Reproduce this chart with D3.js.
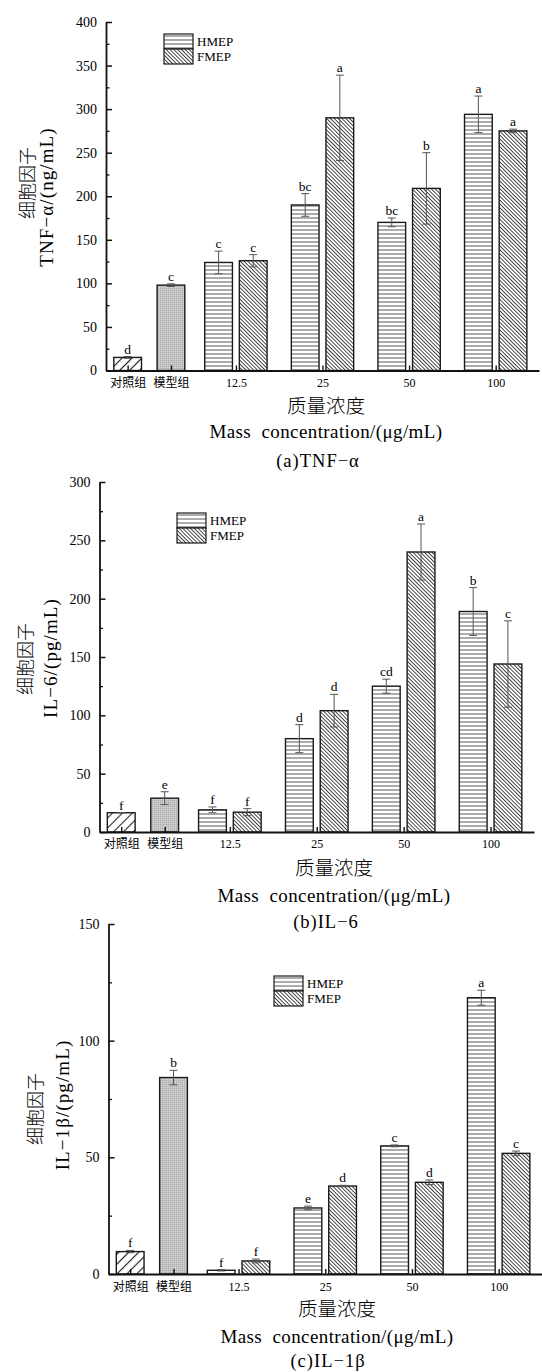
<!DOCTYPE html>
<html>
<head>
<meta charset="utf-8">
<script src="https://cdn.jsdelivr.net/npm/d3@7"></script>
<style>
  body { margin: 0; background: #fff; }
  svg { display: block; }
  text { font-family: 'Liberation Serif', 'Noto Sans CJK SC', serif; fill: #000; }
</style>
</head>
<body>
<div id="chart"></div>
<script>
// ---- data ----
const xLabels = ['对照组', '模型组', '12.5', '25', '50', '100'];
const seriesNames = ['HMEP', 'FMEP'];

// (a) TNF-α
const tnfCtrl = [15, 98];
const tnfCtrlErr = [1, 1.5];
const tnfCtrlSig = ['d', 'c'];
const tnfH = [124, 190, 170, 294];
const tnfHErr = [13, 13, 5, 21];
const tnfHSig = ['c', 'bc', 'bc', 'a'];
const tnfF = [126, 290, 209, 275];
const tnfFErr = [7, 49, 41, 2];
const tnfFSig = ['c', 'a', 'b', 'a'];

// (b) IL-6
const il6Ctrl = [16.5, 29];
const il6CtrlErr = [0, 5.5];
const il6CtrlSig = ['f', 'e'];
const il6H = [19, 80, 125, 189];
const il6HErr = [2.5, 12, 6, 20.5];
const il6HSig = ['f', 'd', 'cd', 'b'];
const il6F = [17, 104, 240, 144];
const il6FErr = [3, 14, 24, 37];
const il6FSig = ['f', 'd', 'a', 'c'];

// (c) IL-1β
const il1Ctrl = [9.6, 84.2];
const il1CtrlErr = [0.5, 3.1];
const il1CtrlSig = ['f', 'b'];
const il1H = [1.6, 28.3, 54.9, 118.4];
const il1HErr = [0.3, 0.8, 0.4, 3.2];
const il1HSig = ['f', 'e', 'c', 'a'];
const il1F = [5.6, 37.7, 39.3, 51.7];
const il1FErr = [0.8, 0.3, 1, 1];
const il1FSig = ['f', 'd', 'd', 'c'];

const W = 542, H = 1372;
const svg = d3.select('#chart').append('svg').attr('width', W).attr('height', H);

// hatch patterns
const defs = svg.append('defs');
function hatch(id, size, angle, stroke, sw, bg) {
  const p = defs.append('pattern').attr('id', id)
    .attr('patternUnits', 'userSpaceOnUse')
    .attr('width', size).attr('height', size)
    .attr('patternTransform', `rotate(${angle})`);
  p.append('rect').attr('width', size).attr('height', size).attr('fill', bg);
  p.append('line').attr('x1', size / 2).attr('y1', 0).attr('x2', size / 2).attr('y2', size)
    .attr('stroke', stroke).attr('stroke-width', sw);
}
hatch('pCtrl', 7, 45, '#222', 1.1, '#fff');
hatch('pH', 4, 90, '#444', 0.9, '#fff');
hatch('pF', 2.7, -45, '#333', 0.9, '#fff');
{
  const p = defs.append('pattern').attr('id', 'pModel')
    .attr('patternUnits', 'userSpaceOnUse').attr('width', 2).attr('height', 2);
  p.append('rect').attr('width', 2).attr('height', 2).attr('fill', '#dadada');
  p.append('path').attr('d', 'M0,0.5H2M0.5,0V2').attr('stroke', '#a9a9a9').attr('stroke-width', 0.6);
}

const panels = [
  {
    left: 106, right: 539, bottom: 370.5, top: 22, yMax: 400,
    ctrl: tnfCtrl, ctrlErr: tnfCtrlErr, ctrlSig: tnfCtrlSig,
    h: tnfH, hErr: tnfHErr, hSig: tnfHSig, f: tnfF, fErr: tnfFErr, fSig: tnfFSig,
    yTitle: 'TNF−α/(ng/mL)', yTitleX: [28, 46], yTitleY: [183, 197],
    legend: { x: 164, y: 34 },
    tickLabY: 383, titleX: 326, titleY: [406, 431], caption: '(a)TNF−α', capX: 318, capY: 461
  },
  {
    left: 99.5, right: 534, bottom: 832, top: 482, yMax: 300,
    ctrl: il6Ctrl, ctrlErr: il6CtrlErr, ctrlSig: il6CtrlSig,
    h: il6H, hErr: il6HErr, hSig: il6HSig, f: il6F, fErr: il6FErr, fSig: il6FSig,
    yTitle: 'IL−6/(pg/mL)', yTitleX: [26, 50], yTitleY: [659, 658],
    legend: { x: 177, y: 513 },
    tickLabY: 844, titleX: 334, titleY: [868, 895], caption: '(b)IL−6', capX: 326, capY: 922
  },
  {
    left: 108.5, right: 542, bottom: 1274, top: 924, yMax: 150,
    ctrl: il1Ctrl, ctrlErr: il1CtrlErr, ctrlSig: il1CtrlSig,
    h: il1H, hErr: il1HErr, hSig: il1HSig, f: il1F, fErr: il1FErr, fSig: il1FSig,
    yTitle: 'IL−1β/(pg/mL)', yTitleX: [36, 62], yTitleY: [1109, 1105],
    legend: { x: 274, y: 976 },
    tickLabY: 1287, titleX: 337, titleY: [1309, 1336], caption: '(c)IL−1β', capX: 328, capY: 1361
  }
];

function drawPanel(p) {
  const g = svg.append('g');
  const x = d3.scaleLinear().domain([0.5, 5.5]).range([p.left, p.right]);
  const y = d3.scaleLinear().domain([0, p.yMax]).range([p.bottom, p.top]);
  const bw = x(0.82) - x(0.5);

  const bars = [
    { pos: 0.75, v: p.ctrl[0], e: p.ctrlErr[0], s: p.ctrlSig[0], fill: 'url(#pCtrl)' },
    { pos: 1.25, v: p.ctrl[1], e: p.ctrlErr[1], s: p.ctrlSig[1], fill: 'url(#pModel)' },
    ...p.h.map((v, i) => ({ pos: 2 + i - 0.2, v, e: p.hErr[i], s: p.hSig[i], fill: 'url(#pH)' })),
    ...p.f.map((v, i) => ({ pos: 2 + i + 0.2, v, e: p.fErr[i], s: p.fSig[i], fill: 'url(#pF)' }))
  ];

  g.selectAll('rect.bar').data(bars).join('rect')
    .attr('class', 'bar')
    .attr('x', d => x(d.pos) - bw / 2)
    .attr('y', d => y(d.v))
    .attr('width', bw)
    .attr('height', d => y(0) - y(d.v))
    .attr('fill', d => d.fill)
    .attr('stroke', '#1a1a1a').attr('stroke-width', 1.4);

  // error bars
  const eb = g.selectAll('g.err').data(bars).join('g').attr('class', 'err')
    .attr('stroke', '#555').attr('stroke-width', 1);
  eb.append('line')
    .attr('x1', d => x(d.pos)).attr('x2', d => x(d.pos))
    .attr('y1', d => y(d.v + d.e)).attr('y2', d => y(d.v - d.e));
  eb.append('line')
    .attr('x1', d => x(d.pos) - 4).attr('x2', d => x(d.pos) + 4)
    .attr('y1', d => y(d.v + d.e)).attr('y2', d => y(d.v + d.e));
  eb.append('line')
    .attr('x1', d => x(d.pos) - 4).attr('x2', d => x(d.pos) + 4)
    .attr('y1', d => y(d.v - d.e)).attr('y2', d => y(d.v - d.e));

  // significance letters
  g.selectAll('text.sig').data(bars).join('text')
    .attr('class', 'sig')
    .attr('x', d => x(d.pos))
    .attr('y', d => y(d.v + d.e) - 3)
    .attr('text-anchor', 'middle')
    .attr('font-size', 13.5)
    .text(d => d.s);

  // y axis with inward ticks
  const major = d3.range(0, p.yMax + 1, 50);
  const minor = d3.range(25, p.yMax, 50);
  const yAxis = g.append('g').attr('transform', `translate(${p.left},0)`)
    .call(d3.axisLeft(y).tickValues(major).tickSize(-6).tickSizeOuter(0).tickPadding(9).tickFormat(d3.format('d')));
  yAxis.select('.domain').attr('stroke', '#111').attr('stroke-width', 1.8);
  yAxis.selectAll('.tick line').attr('stroke', '#111').attr('stroke-width', 1.5);
  yAxis.selectAll('.tick text').attr('font-size', 14).attr('font-family', null).attr('fill', '#000');
  const yMinor = g.append('g').attr('transform', `translate(${p.left},0)`)
    .call(d3.axisLeft(y).tickValues(minor).tickSize(-3.5).tickFormat(''));
  yMinor.select('.domain').remove();
  yMinor.selectAll('.tick line').attr('stroke', '#111').attr('stroke-width', 1.3);

  // x axis
  const tickPos = [0.75, 1.25, 2, 3, 4, 5];
  const xAxis = g.append('g').attr('transform', `translate(0,${p.bottom})`)
    .call(d3.axisBottom(x).tickValues(tickPos).tickSize(-5).tickSizeOuter(0)
      .tickFormat((d, i) => xLabels[i]));
  xAxis.select('.domain').attr('stroke', '#111').attr('stroke-width', 1.8);
  xAxis.selectAll('.tick line').attr('stroke', '#111').attr('stroke-width', 1.4);
  xAxis.selectAll('.tick text')
    .attr('font-size', 12).attr('font-family', null).attr('fill', '#000')
    .attr('y', p.tickLabY - p.bottom).attr('dy', '0.35em');

  // axis titles
  g.append('text')
    .attr('transform', `translate(${p.yTitleX[0]},${p.yTitleY[0]}) rotate(-90)`)
    .attr('text-anchor', 'middle').attr('dominant-baseline', 'central')
    .attr('font-size', 18).attr('font-weight', 300).text('细胞因子');
  g.append('text')
    .attr('transform', `translate(${p.yTitleX[1]},${p.yTitleY[1]}) rotate(-90)`)
    .attr('text-anchor', 'middle').attr('dominant-baseline', 'central')
    .attr('font-size', 19).attr('letter-spacing', 1.1).text(p.yTitle);
  g.append('text')
    .attr('x', p.titleX).attr('y', p.titleY[0])
    .attr('text-anchor', 'middle').attr('dominant-baseline', 'central')
    .attr('font-size', 19.5).attr('font-weight', 300).text('质量浓度');
  g.append('text')
    .attr('x', p.titleX).attr('y', p.titleY[1])
    .attr('text-anchor', 'middle').attr('dominant-baseline', 'central')
    .attr('font-size', 19).attr('letter-spacing', 0.4)
    .text('Mass\u00a0\u00a0concentration/(μg/mL)');
  g.append('text')
    .attr('x', p.capX).attr('y', p.capY)
    .attr('text-anchor', 'middle').attr('dominant-baseline', 'central')
    .attr('font-size', 18.5).attr('letter-spacing', 1).text(p.caption);

  // legend
  const lg = g.append('g').attr('transform', `translate(${p.legend.x},${p.legend.y})`);
  const fills = ['url(#pH)', 'url(#pF)'];
  seriesNames.forEach((name, i) => {
    lg.append('rect').attr('x', 0).attr('y', i * 15).attr('width', 29).attr('height', 15)
      .attr('fill', fills[i]).attr('stroke', '#1a1a1a').attr('stroke-width', 1.2);
    lg.append('text').attr('x', 33).attr('y', i * 15 + 7.5)
      .attr('dominant-baseline', 'central').attr('font-size', 13).text(name);
  });
}

panels.forEach(drawPanel);
</script>
</body>
</html>
